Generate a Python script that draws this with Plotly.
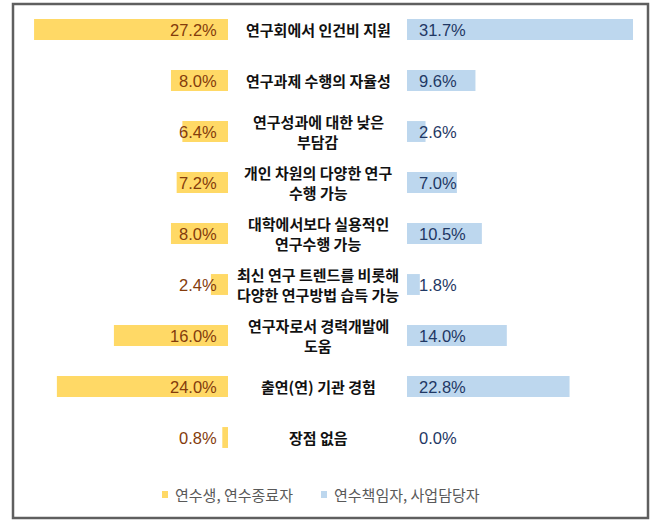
import plotly.graph_objects as go

W, H = 664, 528

categories = [
    "연구회에서 인건비 지원",
    "연구과제 수행의 자율성",
    "연구성과에 대한 낮은<br>부담감",
    "개인 차원의 다양한 연구<br>수행 가능",
    "대학에서보다 실용적인<br>연구수행 가능",
    "최신 연구 트렌드를 비롯해<br>다양한 연구방법 습득 가능",
    "연구자로서 경력개발에<br>도움",
    "출연(연) 기관 경험",
    "장점 없음",
]
trainees = [27.2, 8.0, 6.4, 7.2, 8.0, 2.4, 16.0, 24.0, 0.8]
managers = [31.7, 9.6, 2.6, 7.0, 10.5, 1.8, 14.0, 22.8, 0.0]
series_names = ["연수생, 연수종료자", "연수책임자, 사업담당자"]

YELLOW = "#FFD966"
BLUE = "#BDD7EE"
BROWN = "#843C0C"
NAVY = "#1F3864"

PX_PER_PCT = 7.13
LEFT_END = 228
RIGHT_START = 407
ROW0 = 29.5
ROW_STEP = 51.0
LINE_STEP = 20.0


def px(x):
    return x / W


def py(y):
    return 1 - y / H


fig = go.Figure()
fig.add_trace(go.Bar(
    y=categories, x=trainees, orientation="h", name=series_names[0],
    marker=dict(color=YELLOW, line=dict(width=0)), width=0.41,
    xaxis="x", yaxis="y", hoverinfo="skip", showlegend=False,
))
fig.add_trace(go.Bar(
    y=categories, x=managers, orientation="h", name=series_names[1],
    marker=dict(color=BLUE, line=dict(width=0)), width=0.41,
    xaxis="x2", yaxis="y", hoverinfo="skip", showlegend=False,
))

annotations = []
for cat, a, b in zip(categories, trainees, managers):
    annotations.append(dict(
        x=0, y=cat, xref="x", yref="y", text=f"{a:.1f}%", showarrow=False,
        xanchor="right", yanchor="middle", xshift=-9,
        font=dict(family="Liberation Sans, Arial", size=16.5, color=BROWN),
    ))
    annotations.append(dict(
        x=0, y=cat, xref="x2", yref="y", text=f"{b:.1f}%", showarrow=False,
        xanchor="left", yanchor="middle", xshift=10,
        font=dict(family="Liberation Sans, Arial", size=16.5, color=NAVY),
    ))
    lines = cat.split("<br>")
    k = len(lines)
    for j, line in enumerate(lines):
        offset = ((k - 1) / 2 - j) * LINE_STEP
        annotations.append(dict(
            x=318 / W, y=cat, xref="paper", yref="y", text=line, showarrow=False,
            xanchor="center", yanchor="middle", yshift=offset,
            font=dict(family="Noto Sans CJK KR", size=15, color="#111111", weight="bold"),
        ))

# manual legend
legend_items = [(series_names[0], YELLOW, 162, 173), (series_names[1], BLUE, 321, 332)]
shapes = []
for name, color, sx, tx in legend_items:
    shapes.append(dict(type="rect", xref="paper", yref="paper",
                       x0=px(sx), x1=px(sx + 6), y0=py(498), y1=py(491),
                       line=dict(width=0), fillcolor=color))
    annotations.append(dict(
        x=px(tx), y=py(494), xref="paper", yref="paper", text=name, showarrow=False,
        xanchor="left", yanchor="middle",
        font=dict(family="Noto Sans CJK KR", size=15, color="#595959"),
    ))

shapes.append(dict(type="rect", xref="paper", yref="paper",
                   x0=px(13), x1=px(648), y0=py(518), y1=py(4),
                   line=dict(color="#5F5F5F", width=2.5), fillcolor="rgba(0,0,0,0)"))

y_top = -ROW0 / ROW_STEP
y_bot = (H - ROW0) / ROW_STEP

fig.update_layout(
    width=W, height=H,
    margin=dict(l=0, r=0, t=0, b=0),
    paper_bgcolor="white", plot_bgcolor="white",
    barmode="overlay",
    xaxis=dict(domain=[0, LEFT_END / W], range=[LEFT_END / PX_PER_PCT, 0],
               visible=False, fixedrange=True),
    xaxis2=dict(domain=[RIGHT_START / W, 1], range=[0, (W - RIGHT_START) / PX_PER_PCT],
                visible=False, anchor="y", fixedrange=True),
    yaxis=dict(range=[y_bot, y_top], visible=False, type="category", fixedrange=True),
    showlegend=False,
    annotations=annotations,
    shapes=shapes,
)

fig.write_html("out.html", config={"displayModeBar": False},
               post_script="document.body.style.margin='0';")
